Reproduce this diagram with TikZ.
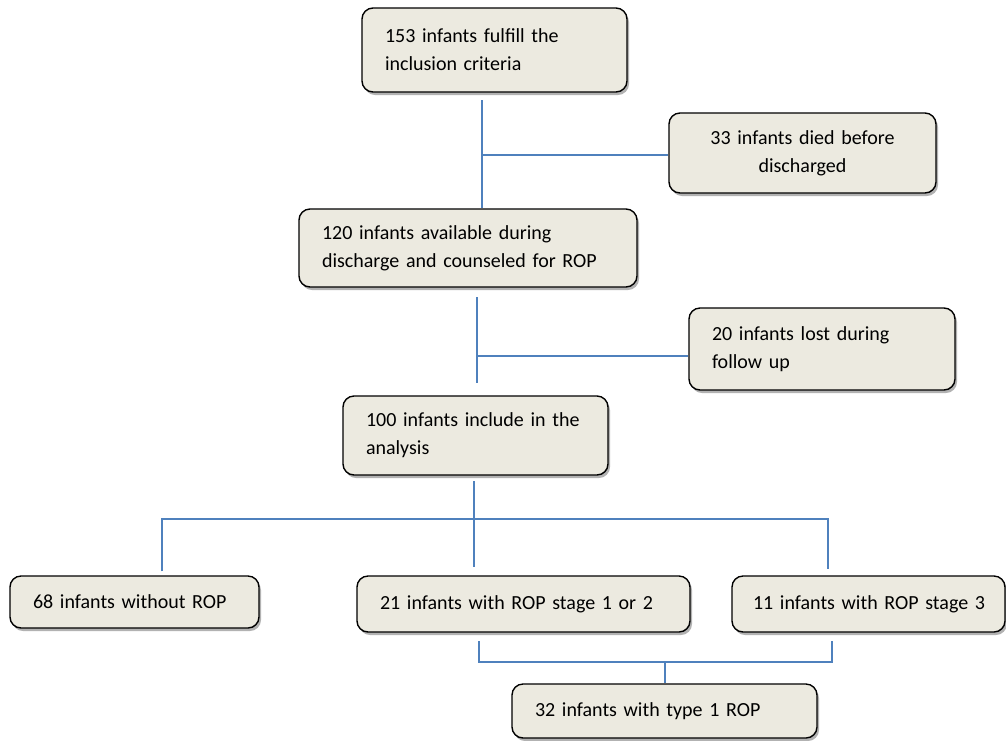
\documentclass[tikz,border=0pt]{standalone}
\usepackage{fontspec}
\setmainfont{Carlito}
\usetikzlibrary{shadows}

\definecolor{boxfill}{HTML}{ECEAE0}
\definecolor{linkblue}{HTML}{4F81BD}

\begin{document}
\begin{tikzpicture}[x=1pt, y=-1pt,
    infobox/.style={draw=black, line width=1.4pt, fill=boxfill, rounded corners=11pt,
        inner xsep=23pt, inner ysep=2pt, align=left,
        font=\fontsize{20}{28}\selectfont,
        drop shadow={shadow xshift=2pt, shadow yshift=-3pt, opacity=0.3, fill=black}},
    link/.style={draw=linkblue, line width=1.4pt}]

                \useasboundingbox (0,0) rectangle (1006,740);

                \node[infobox, text width=219, minimum height=84] (incl) at (494.5,50) {153 infants fulfill the\\inclusion criteria};
                \node[infobox, text width=221, minimum height=80, align=center] (died) at (802.5,153) {33 infants died before\\discharged};
                \node[infobox, text width=292, minimum height=78] (avail) at (468,248) {120 infants available during\\discharge and counseled for ROP};
                \node[infobox, text width=220, minimum height=82] (lost) at (822,349) {20 infants lost during\\follow up};
                \node[infobox, text width=219, minimum height=79] (anal) at (475.5,435.5) {100 infants include in the\\analysis};

                \node[infobox, text width=203, minimum height=52] (norop) at (134.5,602) {68 infants without ROP};
                \node[infobox, text width=287, minimum height=56] (stage12) at (523.5,604) {21 infants with ROP stage 1 or 2};
                \node[infobox, inner xsep=21pt, text width=231, minimum height=56] (stage3) at (868.5,604) {\mbox{11 infants with ROP stage 3}};
                \node[infobox, text width=259, minimum height=54] (type1) at (664.5,711) {32 infants with type 1 ROP};

                % joints
                \coordinate (t1) at (482,100);
                \coordinate (j1) at (482,155);
                \coordinate (t2) at (477,297);
                \coordinate (e2) at (477,383);
                \coordinate (j2) at (477,356);
                \coordinate (t3) at (474,481);
                \coordinate (e3) at (474,567);
                \coordinate (l3) at (162,519);
                \coordinate (r3) at (828,519);
                \coordinate (bl) at (479,641);
                \coordinate (br) at (832,641);
                \coordinate (bm) at (665,662);

                \draw[link] (t1) -- (t1 |- avail.north);
                \draw[link] (j1) -- (j1 -| died.west);

                \draw[link] (t2) -- (e2);
                \draw[link] (j2) -- (j2 -| lost.west);

                \draw[link] (t3) -- (e3);
                \draw[link] (l3 |- norop.north) ++(0,-4) -- (l3) -- (r3) -- ++(0,50);

                \draw[link] (bl) -- (bl |- bm) -- (br |- bm) -- (br);
                \draw[link] (bm) -- (bm |- type1.north) ++(0,-8);
                
            \end{tikzpicture}
\end{document}
